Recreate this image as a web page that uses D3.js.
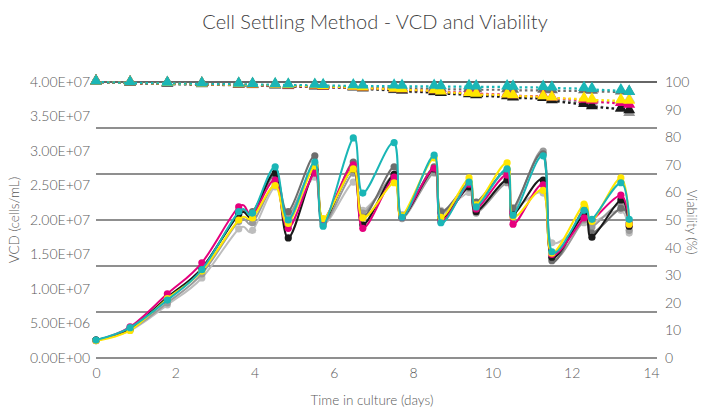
<!DOCTYPE html>
<html><head><meta charset="utf-8">
<script src="https://cdn.jsdelivr.net/npm/d3@7"></script>
<style>body{margin:0;background:#fff}svg{display:block}text{font-family:Lato,"Open Sans",sans-serif}</style>
</head><body><svg id="c" width="701" height="410"></svg>
<script>
const days = [0,0.86,1.8,2.67,3.6,3.95,4.52,4.85,5.52,5.73,6.49,6.73,7.52,7.72,8.53,8.7,9.41,9.59,10.37,10.52,11.28,11.5,12.31,12.51,13.24,13.45];
const seriesNames = ["lightgray","gray","darkgray","black","magenta","yellow","cyan"];
const seriesColors = ["#bdbdbd","#9a9a9a","#6e6e6e","#1a1a1a","#e5007d","#ffe600","#1ab6b6"];
// VCD in millions of cells/mL
const vcdLightgray = [2.6,4.0,7.7,11.6,18.7,18.5,24.8,20.2,26.2,19.3,25.5,21.4,25.8,20.8,26.8,21.4,24.0,21.4,25.8,21.8,23.9,16.7,19.6,19.6,21.4,18.1];
const vcdGray      = [2.6,4.1,8.0,12.2,19.8,19.6,25.2,20.6,27.8,19.4,26.8,21.0,26.4,20.2,26.9,21.0,24.6,21.0,25.4,21.2,30.0,14.6,20.0,19.0,22.4,18.5];
const vcdDarkgray  = [2.6,4.3,8.6,13.0,21.0,21.2,26.6,21.2,29.3,19.6,28.4,20.4,27.7,20.6,27.7,21.2,25.4,22.6,27.2,21.7,29.6,14.1,21.7,18.1,21.7,19.6];
const vcdBlack     = [2.6,4.2,8.8,13.0,20.8,20.6,26.8,17.4,27.2,20.0,27.4,19.3,26.6,20.4,27.4,20.3,24.8,21.2,25.8,20.8,25.8,14.6,20.8,17.5,22.9,19.1];
const vcdMagenta   = [2.5,4.5,9.3,13.8,21.9,20.8,25.8,18.8,26.8,20.0,28.0,18.8,26.2,20.4,27.5,19.8,25.2,21.6,26.5,19.4,25.1,15.0,20.3,20.0,23.6,19.4];
const vcdYellow    = [2.5,4.0,8.6,12.6,20.0,20.3,25.0,19.5,27.8,20.2,27.4,20.3,25.4,20.6,29.0,20.4,26.1,22.2,28.3,20.5,24.3,15.2,22.3,19.8,26.1,19.4];
const vcdCyan      = [2.6,4.4,8.4,12.8,21.2,21.0,27.7,20.0,28.4,19.1,31.9,23.9,31.2,20.4,29.4,19.6,25.5,21.9,27.4,20.7,29.3,15.4,21.4,20.1,25.4,20.1];
// Viability %
const viaLightgray = [100,99.5,99.2,99,98.8,98.6,98.5,98.3,98.2,98,97.8,97.4,96.8,96.5,96,95.8,95.5,95.2,94.8,94.5,94,93.6,92.8,92.4,93,93.4];
const viaGray      = [100,99.6,99.3,99,98.8,98.7,98.5,98.4,98.2,98.0,97.8,97.6,97.2,97,96.5,96.2,95.6,95.2,94.8,94.5,94.2,93.6,92.4,91.5,90,88.6];
const viaDarkgray  = [100,99.6,99.4,99.2,99,98.9,98.8,98.6,98.5,98.3,98.2,98,97.8,97.7,97.6,97.4,97.3,97.2,97.2,97,97,96.8,96.8,96.6,96.4,96.2];
const viaBlack     = [100,99.6,99.3,99.1,98.9,98.8,98.6,98.4,98.3,98.1,97.9,97.5,97,96.7,96.2,95.8,95.4,95,94.6,94.2,94,93.2,91.8,91,90.2,89.6];
const viaMagenta   = [100,99.7,99.4,99.2,99,98.9,98.7,98.5,98.4,98.2,98,97.8,97.4,97.2,96.8,96.5,96.1,95.8,95.4,95,94.8,94.2,93.4,93,92.2,91.6];
const viaYellow    = [100,99.7,99.4,99.2,99,98.9,98.8,98.6,98.5,98.3,98.1,97.8,97.4,97.2,96.8,96.4,95.8,95.5,95.3,95,94.6,94.2,93.8,93.5,93.2,93];
const viaCyan      = [100,99.7,99.5,99.3,99.2,99.1,99,98.9,98.8,98.7,98.6,98.5,98.5,98.4,98.4,98.3,98.3,98.2,98.2,98.1,98,97.8,97.6,97.3,96.8,96.2];
const vcdTicks = [0,5e6,1e7,1.5e7,2e7,2.5e7,3e7,3.5e7,4e7];
const vcdTickLabels = ["0.00E+00","5.00E+06","1.00E+07","1.50E+07","2.00E+07","2.50E+07","3.00E+07","3.50E+07","4.00E+07"];
const viaTicks = [0,10,20,30,40,50,60,70,80,90,100];
const dayTicks = [0,2,4,6,8,10,12,14];
const gridFractions = [0,1/6,2/6,3/6,4/6,5/6,1];

const vcdAll = [vcdLightgray,vcdGray,vcdDarkgray,vcdBlack,vcdMagenta,vcdYellow,vcdCyan];
const viaAll = [viaLightgray,viaGray,viaDarkgray,viaBlack,viaMagenta,viaYellow,viaCyan];

const svg = d3.select("#c");
const L = 96, R = 657, T = 82, B = 358;
const x = d3.scaleLinear().domain([0,14]).range([L,651]);
const yL = d3.scaleLinear().domain([0,4e7]).range([B,T]);
const yR = d3.scaleLinear().domain([0,100]).range([B,T]);
const yG = d3.scaleLinear().domain([0,1]).range([B,T]);

svg.append("text").attr("x",375).attr("y",29).attr("text-anchor","middle")
  .attr("font-size",20).attr("font-weight",300).attr("fill","#404040").text("Cell Settling Method - VCD and Viability");

svg.append("g").selectAll("line").data(gridFractions).join("line")
  .attr("x1",L).attr("x2",R).attr("y1",d=>yG(d)).attr("y2",d=>yG(d))
  .attr("stroke",(d)=>d===1?"#333":"#6a6a6a").attr("stroke-width",1.5);

const tickFont = 14, tickCol = "#595959";
const gl = svg.append("g").attr("transform",`translate(${L-4},0)`)
  .call(d3.axisLeft(yL).tickValues(vcdTicks).tickFormat((d,i)=>vcdTickLabels[i]).tickSize(0).tickPadding(2));
const gr = svg.append("g").attr("transform",`translate(${R+6},0)`)
  .call(d3.axisRight(yR).tickValues(viaTicks).tickSize(0).tickPadding(2));
const gx = svg.append("g").attr("transform",`translate(0,${B+6})`)
  .call(d3.axisBottom(x).tickValues(dayTicks).tickSize(0).tickPadding(4));
[gl,gr,gx].forEach(g=>{g.select(".domain").remove();
  g.selectAll("text").attr("font-size",tickFont).attr("fill",tickCol).attr("font-family","Lato,sans-serif").attr("font-weight",300);});

svg.append("text").attr("transform","translate(19,220) rotate(-90)").attr("text-anchor","middle")
  .attr("font-size",13.5).attr("fill",tickCol).attr("font-weight",300).text("VCD (cells/mL)");
svg.append("text").attr("transform","translate(687,222) rotate(90)").attr("text-anchor","middle")
  .attr("font-size",13).attr("fill",tickCol).attr("font-weight",300).text("Viability (%)");
svg.append("text").attr("x",372).attr("y",405).attr("text-anchor","middle")
  .attr("font-size",13.5).attr("fill",tickCol).attr("font-weight",300).text("Time in culture (days)");

const vLine = d3.line().x((d,i)=>x(days[i])).y(d=>yR(d));
const tri = d3.symbol().type(d3.symbolTriangle).size(62);
viaAll.forEach((vals,k)=>{
  const g = svg.append("g");
  g.append("path").attr("d",vLine(vals)).attr("fill","none").attr("stroke",seriesColors[k])
    .attr("stroke-width",2.2).attr("stroke-dasharray","2.5,3");
  g.selectAll("path.m").data(vals).join("path").attr("class","m")
    .attr("transform",(d,i)=>`translate(${x(days[i])},${yR(d)-1})`).attr("d",tri).attr("fill",seriesColors[k]);
});

const cLine = d3.line().x((d,i)=>x(days[i])).y(d=>yL(d*1e6)).curve(d3.curveCardinal.tension(0));
vcdAll.forEach((vals,k)=>{
  const g = svg.append("g");
  g.append("path").attr("d",cLine(vals)).attr("fill","none").attr("stroke",seriesColors[k]).attr("stroke-width",2);
  g.selectAll("circle").data(vals).join("circle")
    .attr("cx",(d,i)=>x(days[i])).attr("cy",d=>yL(d*1e6)).attr("r",3.6).attr("fill",seriesColors[k]);
});
</script></body></html>
